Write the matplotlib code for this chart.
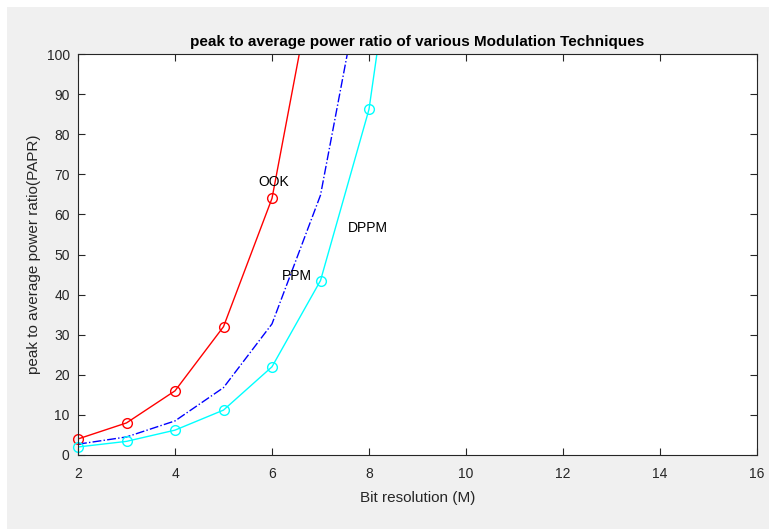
import matplotlib
matplotlib.use("Agg")
import matplotlib.pyplot as plt
from matplotlib.patches import Rectangle

plt.rcParams["font.family"] = ["Liberation Sans", "DejaVu Sans"]

# bit resolution M
m_ook = [2, 3, 4, 5, 6, 7]
ook = [4, 8, 16, 32, 64, 128]
m_ppm = [2, 3, 4, 5, 6, 7, 8]
ppm = [2.7, 4.5, 8.5, 16.8, 32.7, 64.8, 128.5]
m_dppm = [2, 3, 4, 5, 6, 7, 8, 9]
dppm = [2.0, 3.4, 6.2, 11.2, 22.0, 43.5, 86.2, 171.0]

fig = plt.figure(figsize=(7.69, 5.29), dpi=100, facecolor="white")
fig.patches.append(Rectangle((7 / 769, 0), 1, 1 - 7 / 529, transform=fig.transFigure,
                             facecolor="#f0f0f0", edgecolor="none", zorder=-10))
ax = fig.add_axes([78 / 769, 1 - 455 / 529, 679 / 769, 401 / 529])
ax.set_facecolor("white")

ax.plot(m_ook, ook, "-", color="red", lw=1)
ax.plot(m_ook[:5], ook[:5], "o", color="red", mfc="none", ms=7, mew=1, clip_on=False)
ax.plot(m_ppm, ppm, "-.", color="blue", lw=1)
ax.plot(m_dppm, dppm, "-", color="cyan", lw=1)
ax.plot(m_dppm[:7], dppm[:7], "o", color="cyan", mfc="none", ms=7, mew=1, clip_on=False)

ax.text(5.71, 68, "OOK", fontsize=10, va="center")
ax.text(6.21, 44.6, "PPM", fontsize=10, va="center")
ax.text(7.57, 56.6, "DPPM", fontsize=10, va="center")

ax.set_xlim(2, 16)
ax.set_ylim(0, 100)
ax.set_xticks(range(2, 17, 2))
ax.set_yticks(range(0, 101, 10))
ax.tick_params(direction="in", top=True, right=True, labelsize=10, length=5, width=0.8,
               colors="#262626")
ax.tick_params(axis="x", pad=9)
ax.tick_params(axis="y", pad=6)
for s in ax.spines.values():
    s.set_color("#262626")
    s.set_linewidth(0.8)

ax.set_title("peak to average power ratio of various Modulation Techniques",
             fontsize=11, fontweight="bold", pad=6)
ax.set_xlabel("Bit resolution (M)", fontsize=11, color="#262626", labelpad=7)
ax.set_ylabel("peak to average power ratio(PAPR)", fontsize=11, color="#262626")

fig.savefig("out.png", dpi=100)
